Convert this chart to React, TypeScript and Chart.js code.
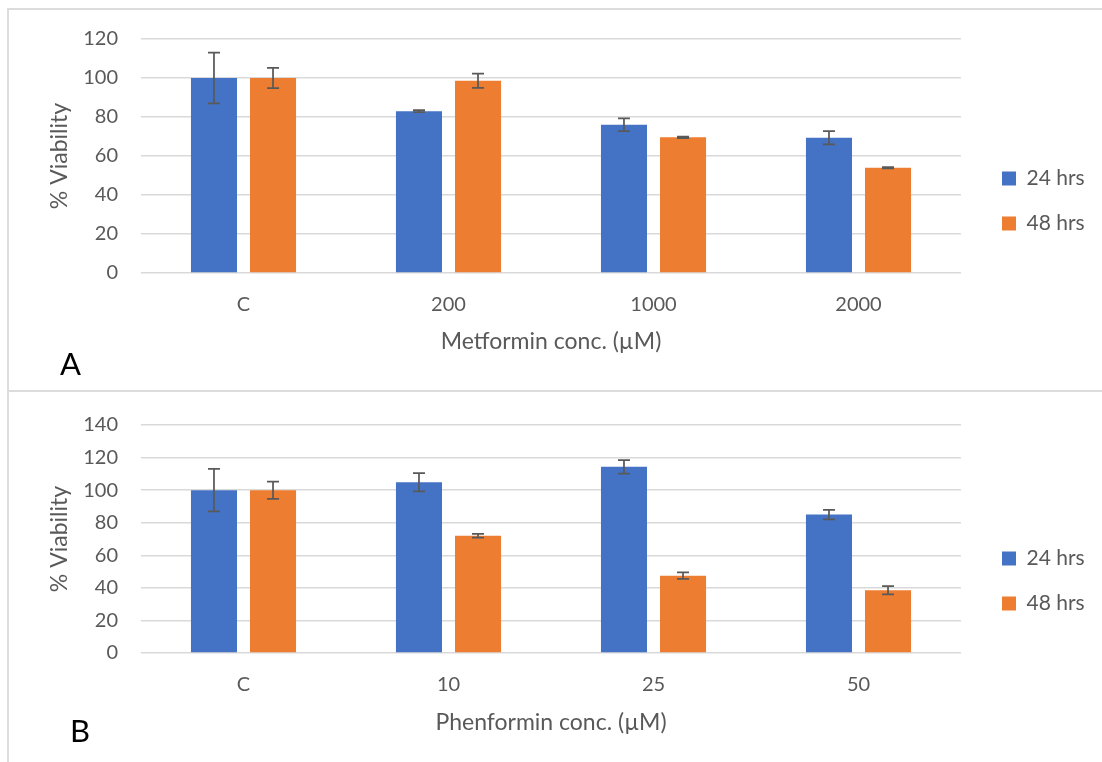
import React, { useEffect, useRef } from 'react';
import { Chart, registerables } from 'chart.js';

Chart.register(...registerables);

// ---- data ----
const seriesLabels = ['24 hrs', '48 hrs'];

const metforminCategories = ['C', '200', '1000', '2000'];
const metformin24 = [100, 83, 76, 69.3];
const metformin24Err = [13, 0.5, 3.3, 3.4];
const metformin48 = [100, 98.6, 69.6, 54];
const metformin48Err = [5.2, 3.7, 0.4, 0.3];
const metforminYMax = 120;
const metforminTitle = 'Metformin conc. (µM)';

const phenforminCategories = ['C', '10', '25', '50'];
const phenformin24 = [100, 104.8, 114.3, 85];
const phenformin24Err = [13, 5.6, 4.2, 2.9];
const phenformin48 = [100, 72, 47.5, 38.5];
const phenformin48Err = [5.3, 1.1, 2, 2.5];
const phenforminYMax = 140;
const phenforminTitle = 'Phenformin conc. (µM)';

const yTitle = '% Viability';
const yStep = 20;

// ---- style ----
const FONT = 'Lato, "Open Sans", sans-serif';
const TEXT = '#595959';
const GRID = '#d9d9d9';
const BLUE = '#4472C4';
const ORANGE = '#ED7D31';

const errorBarPlugin = {
  id: 'errorBars',
  afterDatasetsDraw(chart: any) {
    const ctx = chart.ctx;
    const y = chart.scales.y;
    chart.data.datasets.forEach((ds: any, i: number) => {
      const meta = chart.getDatasetMeta(i);
      meta.data.forEach((bar: any, j: number) => {
        const v = ds.data[j];
        const e = ds.errors[j];
        const yTop = y.getPixelForValue(v + e);
        const yBot = y.getPixelForValue(v - e);
        ctx.save();
        ctx.strokeStyle = TEXT;
        ctx.lineWidth = 1.75;
        ctx.beginPath();
        ctx.moveTo(bar.x, yTop);
        ctx.lineTo(bar.x, yBot);
        ctx.moveTo(bar.x - 6, yTop);
        ctx.lineTo(bar.x + 6, yTop);
        ctx.moveTo(bar.x - 6, yBot);
        ctx.lineTo(bar.x + 6, yBot);
        ctx.stroke();
        ctx.restore();
      });
    });
  },
};

const legendPlacer = {
  id: 'legendPlacer',
  afterLayout(chart: any, _args: any, opts: any) {
    const lg = chart.legend;
    if (!lg) return;
    const h = lg.bottom - lg.top;
    lg.left = opts.left;
    lg.right = chart.width;
    lg.width = chart.width - opts.left;
    lg.top = opts.top;
    lg.bottom = opts.top + h;
  },
};

type PanelProps = {
  categories: string[];
  s24: number[];
  e24: number[];
  s48: number[];
  e48: number[];
  yMax: number;
  xTitle: string;
  width: number;
  height: number;
  areaTop: number;
  xAxisHeight: number;
  xTitlePad: number;
  xTickPad: number;
  legendTop: number;
};

function Panel(p: PanelProps) {
  const ref = useRef<HTMLCanvasElement | null>(null);
  useEffect(() => {
    if (!ref.current) return;
    const chart = new Chart(ref.current, {
      type: 'bar',
      data: {
        labels: p.categories,
        datasets: [
          {
            label: seriesLabels[0],
            data: p.s24,
            errors: p.e24,
            backgroundColor: BLUE,
            categoryPercentage: 0.576,
            barPercentage: 0.78,
          } as any,
          {
            label: seriesLabels[1],
            data: p.s48,
            errors: p.e48,
            backgroundColor: ORANGE,
            categoryPercentage: 0.576,
            barPercentage: 0.78,
          } as any,
        ],
      },
      options: {
        responsive: false,
        animation: false,
        layout: { padding: { left: 0, top: p.areaTop, right: 61, bottom: 0 } },
        plugins: {
          tooltip: { enabled: false },
          legend: {
            position: 'right',
            align: 'start',
            maxWidth: 80,
            labels: {
              boxWidth: 14,
              boxHeight: 14,
              padding: 24,
              color: TEXT,
              font: { family: FONT, size: 21 },
            },
          },
          legendPlacer: { left: 978, top: p.legendTop },
        } as any,
        scales: {
          x: {
            grid: { display: false, drawTicks: false },
            border: { display: false },
            ticks: { color: TEXT, font: { family: FONT, size: 20 }, padding: p.xTickPad },
            title: {
              display: true,
              text: p.xTitle,
              color: TEXT,
              font: { family: FONT, size: 23 },
              padding: { top: 0, bottom: p.xTitlePad },
            },
            afterFit: (s: any) => {
              s.height = p.xAxisHeight;
            },
          },
          y: {
            min: 0,
            max: p.yMax,
            ticks: { stepSize: yStep, color: TEXT, font: { family: FONT, size: 20 }, padding: 23 },
            grid: { color: GRID, lineWidth: 1.5, drawTicks: false },
            border: { display: false },
            title: {
              display: true,
              text: yTitle,
              color: TEXT,
              font: { family: FONT, size: 23 },
              padding: { top: 46, bottom: 0 },
            },
            afterFit: (s: any) => {
              s.width = 141;
            },
          },
        },
      },
      plugins: [errorBarPlugin, legendPlacer],
    });
    return () => chart.destroy();
  }, []);
  return (
    <canvas
      ref={ref}
      width={p.width}
      height={p.height}
      style={{ width: p.width, height: p.height, display: 'block' }}
    />
  );
}

export default function App() {
  return (
    <div
      style={{
        position: 'absolute',
        left: 0,
        top: 0,
        width: 1102,
        height: 762,
        background: '#fff',
        overflow: 'hidden',
        fontFamily: FONT,
      }}
    >
      {/* panel frames */}
      <div style={{ position: 'absolute', left: 7, top: 8, width: 1200, height: 1000, borderLeft: '2px solid #dcdcdc', borderTop: '2px solid #dcdcdc' }} />
      <div style={{ position: 'absolute', left: 7, top: 389.5, width: 1200, height: 0, borderTop: '2px solid #dcdcdc' }} />

      <div style={{ position: 'absolute', left: 0, top: 0 }}>
        <Panel
          categories={metforminCategories}
          s24={metformin24}
          e24={metformin24Err}
          s48={metformin48}
          e48={metformin48Err}
          yMax={metforminYMax}
          xTitle={metforminTitle}
          width={1102}
          height={390}
          areaTop={39}
          xAxisHeight={117}
          xTitlePad={35}
          xTickPad={20}
          legendTop={144}
        />
      </div>
      <div style={{ position: 'absolute', left: 0, top: 390 }}>
        <Panel
          categories={phenforminCategories}
          s24={phenformin24}
          e24={phenformin24Err}
          s48={phenformin48}
          e48={phenformin48Err}
          yMax={phenforminYMax}
          xTitle={phenforminTitle}
          width={1102}
          height={372}
          areaTop={27}
          xAxisHeight={109}
          xTitlePad={26}
          xTickPad={20}
          legendTop={134}
        />
      </div>

      <div style={{ position: 'absolute', left: 60, top: 348, fontSize: 31, lineHeight: 1, color: '#000' }}>A</div>
      <div style={{ position: 'absolute', left: 70, top: 715, fontSize: 31, lineHeight: 1, color: '#000' }}>B</div>
    </div>
  );
}
